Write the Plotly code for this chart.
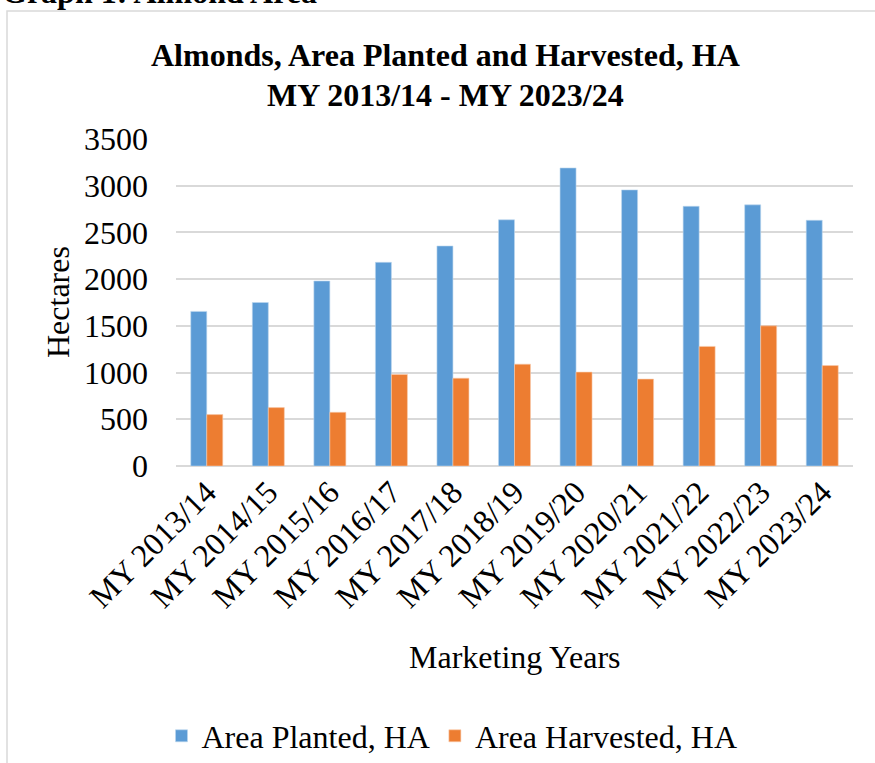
import plotly.graph_objects as go

# Marketing years and almond areas (hectares)
years = ["MY 2013/14", "MY 2014/15", "MY 2015/16", "MY 2016/17", "MY 2017/18",
         "MY 2018/19", "MY 2019/20", "MY 2020/21", "MY 2021/22", "MY 2022/23",
         "MY 2023/24"]
area_planted = [1655, 1750, 1980, 2180, 2355, 2635, 3190, 2955, 2780, 2795, 2630]
area_harvested = [550, 625, 575, 980, 940, 1090, 1005, 930, 1280, 1500, 1075]
y_ticks = [0, 500, 1000, 1500, 2000, 2500, 3000, 3500]

FONT = "Liberation Serif, Times New Roman, serif"
BLUE = "#5B9BD5"
ORANGE = "#ED7D31"
GRID = "#D9D9D9"

W, H = 875, 763
L, R, T, B = 176, 22, 139, 297
pw, ph = W - L - R, H - T - B


def px_x(x):
    return (x - L) / pw


def px_y(y):
    return (H - B - y) / ph


fig = go.Figure()
fig.add_trace(go.Bar(x=years, y=area_planted, name="Area Planted, HA",
                     marker=dict(color=BLUE, line=dict(color="#BDD7EE", width=0.6))))
fig.add_trace(go.Bar(x=years, y=area_harvested, name="Area Harvested, HA",
                     marker=dict(color=ORANGE, line=dict(color="#F8CBAD", width=0.6))))

title_font = dict(family=FONT, size=32, color="black")

fig.update_layout(
    width=W, height=H,
    margin=dict(l=L, r=R, t=T, b=B, autoexpand=False),
    paper_bgcolor="white", plot_bgcolor="white",
    font=dict(family=FONT, size=32, color="black"),
    barmode="group", bargap=0.48, bargroupgap=0,
    showlegend=True,
    legend=dict(orientation="h", xref="container", x=452 / W, xanchor="center",
                yref="container", y=1 - 736 / H, yanchor="middle",
                font=dict(family=FONT, size=32), itemwidth=30,
                bgcolor="rgba(0,0,0,0)"),
    xaxis=dict(type="category", tickangle=-45, showgrid=False, showline=False,
               ticks="", tickfont=dict(family=FONT, size=32)),
    yaxis=dict(range=[0, 3500], tickvals=y_ticks, showgrid=True,
               gridcolor=GRID, gridwidth=1.5, zeroline=True,
               zerolinecolor=GRID, zerolinewidth=1.5, showline=False,
               ticks="", ticklabelstandoff=27, tickfont=dict(family=FONT, size=32)),
    shapes=[dict(type="rect", xref="paper", yref="paper",
                 x0=px_x(7), x1=px_x(890), y0=px_y(780), y1=px_y(11),
                 line=dict(color=GRID, width=1.5), fillcolor="rgba(0,0,0,0)",
                 layer="below")],
    annotations=[
        dict(text="<b>Almonds, Area Planted and Harvested, HA</b>", xref="paper", yref="paper",
             x=px_x(445), y=px_y(55), xanchor="center", yanchor="middle",
             showarrow=False, font=title_font),
        dict(text="<b>MY 2013/14 - MY 2023/24</b>", xref="paper", yref="paper",
             x=px_x(445), y=px_y(95), xanchor="center", yanchor="middle",
             showarrow=False, font=title_font),
        dict(text="Hectares", xref="paper", yref="paper", x=px_x(58), y=px_y(302),
             xanchor="center", yanchor="middle", textangle=-90, showarrow=False,
             font=dict(family=FONT, size=32)),
        dict(text="Marketing Years", xref="paper", yref="paper", x=px_x(515), y=px_y(657),
             xanchor="center", yanchor="middle", showarrow=False,
             font=dict(family=FONT, size=32)),
        dict(text="<b>Graph 1: Almond Area</b>", xref="paper", yref="paper",
             x=px_x(0), y=px_y(12), xanchor="left", yanchor="bottom", showarrow=False,
             font=dict(family=FONT, size=32)),
    ],
)

fig.write_html("out.html")
